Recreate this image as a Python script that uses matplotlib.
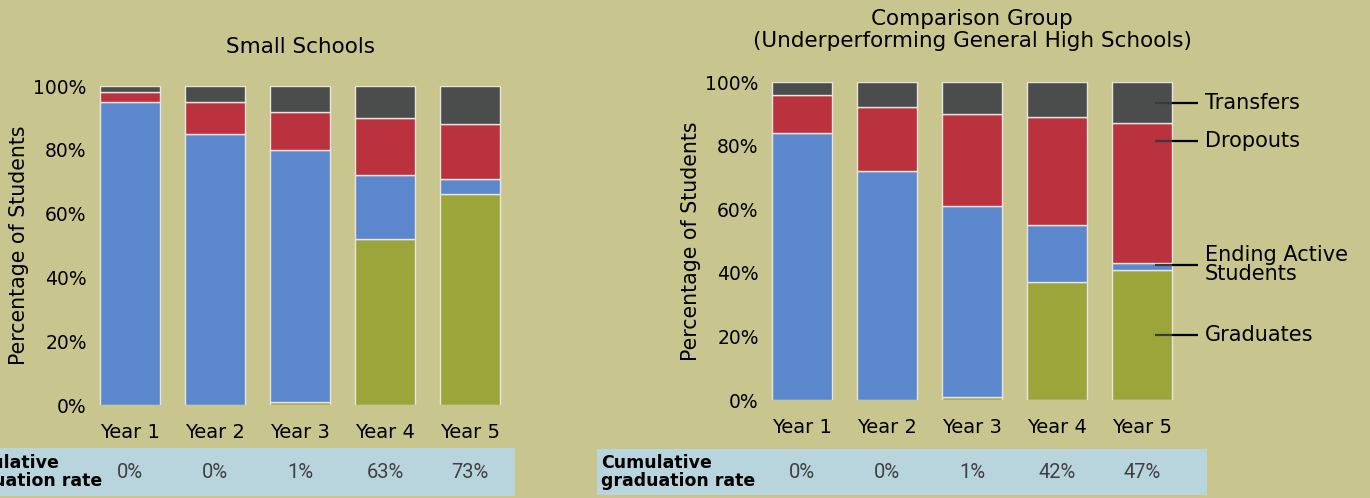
import matplotlib
matplotlib.use("Agg")
import matplotlib.pyplot as plt
from matplotlib.patches import Rectangle
from matplotlib.transforms import blended_transform_factory
import numpy as np

years = ["Year 1", "Year 2", "Year 3", "Year 4", "Year 5"]
yticks = [0, 20, 40, 60, 80, 100]
ytick_labels = ["0%", "20%", "40%", "60%", "80%", "100%"]

# Small Schools (percent of students)
small_graduates = [0, 0, 1, 52, 66]
small_active = [95, 85, 79, 20, 5]
small_dropouts = [3, 10, 12, 18, 17]
small_transfers = [2, 5, 8, 10, 12]
small_cum_rate = ["0%", "0%", "1%", "63%", "73%"]

# Comparison group
comp_graduates = [0, 0, 1, 37, 41]
comp_active = [84, 72, 60, 18, 2]
comp_dropouts = [12, 20, 29, 34, 44]
comp_transfers = [4, 8, 10, 11, 13]
comp_cum_rate = ["0%", "0%", "1%", "42%", "47%"]

legend_labels = ["Transfers", "Dropouts", "Ending Active\nStudents", "Graduates"]
legend_y = [93.5, 81.4, 42.5, 20.5]

BG = "#c9c58e"
C_GRAD = "#9ba53a"
C_ACT = "#5b87cc"
C_DROP = "#b9323d"
C_TRANS = "#4b4c4c"
C_TABLE = "#b8d4dc"
EDGE = "#e8e4e0"

W, H = 1370, 498
fig = plt.figure(figsize=(W / 100, H / 100), dpi=100, facecolor=BG)

def px_axes(x0, x1, ytop, ybot):
    return fig.add_axes([x0 / W, 1 - ybot / H, (x1 - x0) / W, (ybot - ytop) / H])

FONT = "DejaVu Sans"

def draw_panel(ax, grads, act, drop, trans, spacing_px, c0_px, ax_x0, ax_x1):
    x = np.arange(len(years))
    width = 60 / spacing_px
    bottom = np.zeros(len(years))
    for vals, col in [(grads, C_GRAD), (act, C_ACT), (drop, C_DROP), (trans, C_TRANS)]:
        v = np.array(vals, dtype=float)
        ax.bar(x, v, width, bottom=bottom, color=col, edgecolor=EDGE, linewidth=1.0)
        bottom += v
    ax.set_xlim(-(c0_px - ax_x0) / spacing_px, (ax_x1 - c0_px) / spacing_px)
    ax.set_ylim(0, 100)
    ax.set_facecolor("none")
    for s in ax.spines.values():
        s.set_visible(False)
    ax.set_xticks(x)
    ax.set_xticklabels(years, fontsize=14, family=FONT)
    ax.set_yticks(yticks)
    ax.set_yticklabels(ytick_labels, fontsize=13.5, family=FONT)
    ax.tick_params(length=0, pad=6)
    ax.tick_params(axis="x", pad=13)
    ax.set_ylabel("Percentage of Students", fontsize=14.8, family=FONT, labelpad=3)

# Left panel
axL = px_axes(95, 505, 86, 405)
draw_panel(axL, small_graduates, small_active, small_dropouts, small_transfers, 85, 130, 95, 505)
fig.text(300 / W, 1 - 47 / H, "Small Schools", ha="center", va="center", fontsize=15.5, family=FONT)

# Right panel
axR = px_axes(767, 1177, 82, 400)
draw_panel(axR, comp_graduates, comp_active, comp_dropouts, comp_transfers, 85, 802, 767, 1177)
fig.text(972 / W, 1 - 30 / H, "Comparison Group\n(Underperforming General High Schools)",
         ha="center", va="center", fontsize=15.5, family=FONT, linespacing=1.1)

# Legend annotations on the last comparison bar
for yv, lab in zip(legend_y, legend_labels):
    axR.plot([4.15, 4.35], [yv, yv], color="#3a3a3a", lw=1.6, clip_on=False, solid_capstyle="butt")
    axR.plot([4.35, 4.66], [yv, yv], color="black", lw=1.6, clip_on=False, solid_capstyle="butt")
    axR.text(4.74, yv, lab, ha="left", va="center", fontsize=15, family=FONT,
             clip_on=False, linespacing=0.95, multialignment="left")

# Tables
def table(ax, x0, x1, ytop, ybot, rates, label_left):
    fig.patches.append(Rectangle((x0 / W, 1 - ybot / H), (x1 - x0) / W, (ybot - ytop) / H,
                                 transform=fig.transFigure, facecolor=C_TABLE, edgecolor="none",
                                 zorder=-5))
    yc = 1 - ((ytop + ybot) / 2) / H
    tr = blended_transform_factory(ax.transData, fig.transFigure)
    for i, r in enumerate(rates):
        fig.text(i, yc, r, transform=tr, ha="center", va="center", fontsize=14.5,
                 family="Roboto", weight="normal", color="#404040", zorder=5)
    fig.text(label_left / W, yc, "Cumulative\ngraduation rate", ha="left", va="center",
             multialignment="left", fontsize=12.5, weight="bold", family=FONT, linespacing=1.0,
             zorder=5)

table(axL, 0, 515, 448, 496, small_cum_rate, -52)
table(axR, 597, 1207, 449, 495, comp_cum_rate, 601)

fig.savefig("out.png", dpi=100, facecolor=BG)
